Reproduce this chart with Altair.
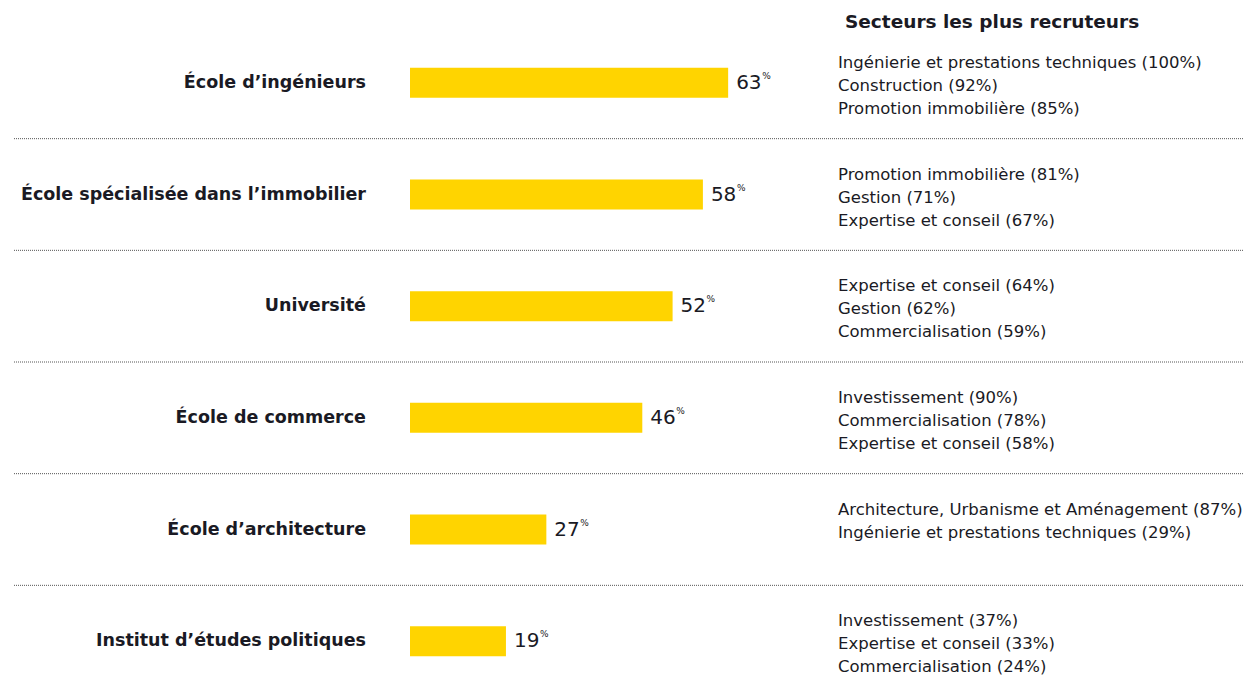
import altair as alt
import pandas as pd

schools = [
    "École d’ingénieurs",
    "École spécialisée dans l’immobilier",
    "Université",
    "École de commerce",
    "École d’architecture",
    "Institut d’études politiques",
]
values = [63, 58, 52, 46, 27, 19]
sectors = [
    ["Ingénierie et prestations techniques (100%)", "Construction (92%)", "Promotion immobilière (85%)"],
    ["Promotion immobilière (81%)", "Gestion (71%)", "Expertise et conseil (67%)"],
    ["Expertise et conseil (64%)", "Gestion (62%)", "Commercialisation (59%)"],
    ["Investissement (90%)", "Commercialisation (78%)", "Expertise et conseil (58%)"],
    ["Architecture, Urbanisme et Aménagement (87%)", "Ingénierie et prestations techniques (29%)"],
    ["Investissement (37%)", "Expertise et conseil (33%)", "Commercialisation (24%)"],
]
side_title = "Secteurs les plus recruteurs"

FONT = "DejaVu Sans"
DARK = "#1a1a24"
YELLOW = "#ffd400"

df = pd.DataFrame({
    "school": schools,
    "value": values,
    "sectors": ["\n".join(s) for s in sectors],
})
sep = pd.DataFrame({"school": schools[:-1]})

yscale = alt.Scale(domain=schools, range=[19, 689], paddingInner=0, paddingOuter=0)
xscale = alt.Scale(domain=[0, 100], range=[402, 907])

Y = alt.Y("school:N", scale=yscale, axis=None)
X = alt.X("value:Q", scale=xscale, axis=None)

base = alt.Chart(df)

bars = base.mark_bar(color=YELLOW, size=30).encode(
    x=alt.X("zero:Q", scale=xscale, axis=None), x2="value:Q", y=Y
).transform_calculate(zero="0")

nums = base.mark_text(align="left", baseline="middle", dx=8, fontSize=20, font=FONT, color=DARK).encode(
    x=X, y=Y, text=alt.Text("value:Q")
)
pct = base.mark_text(align="left", baseline="middle", dx=34, dy=-7, fontSize=9, font=FONT, color=DARK).encode(
    x=X, y=Y, text=alt.value("%")
)

labels = base.mark_text(align="right", baseline="middle", fontSize=17.5, fontWeight="bold", font=FONT, color=DARK).encode(
    x=alt.value(358), y=Y, text="school:N"
)

sec = base.mark_text(align="left", baseline="top", lineBreak="\n", lineHeight=23, dy=28,
                     fontSize=16.5, font=FONT, color=DARK).encode(
    x=alt.value(830),
    y=alt.Y("school:N", scale=yscale, axis=None, bandPosition=0),
    text="sectors:N",
)

title = alt.Chart(pd.DataFrame({"t": [side_title]})).mark_text(
    align="left", baseline="middle", fontSize=18.5, fontWeight="bold", font=FONT, color=DARK
).encode(x=alt.value(837), y=alt.value(14), text="t:N")

rules = alt.Chart(sep).mark_rule(color="#555555", strokeWidth=1, strokeDash=[1, 1]).encode(
    y=alt.Y("school:N", scale=yscale, axis=None, bandPosition=1),
    x=alt.value(6), x2=alt.value(1242),
)

chart = alt.layer(rules, bars, nums, pct, labels, sec, title).properties(
    width=1236, height=669, padding=0, autosize=alt.AutoSizeParams(type="none")
).configure_view(stroke=None)

chart.save("out.html", embed_options={"renderer": "svg", "actions": False})
